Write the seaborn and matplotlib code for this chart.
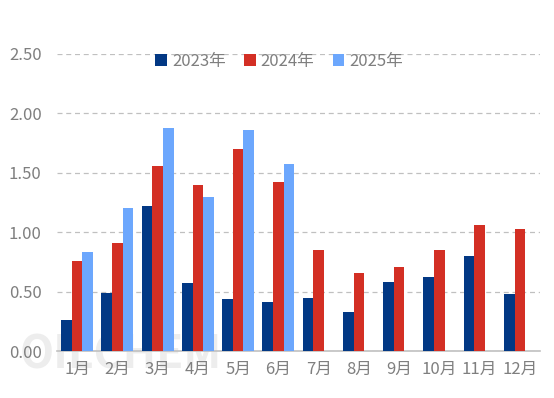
import numpy as np
import pandas as pd
import matplotlib
matplotlib.use("Agg")
import matplotlib.pyplot as plt
import seaborn as sns

# monthly values
months = ['1月', '2月', '3月', '4月', '5月', '6月', '7月', '8月', '9月', '10月', '11月', '12月']
y2023 = [0.26, 0.49, 1.22, 0.57, 0.44, 0.41, 0.45, 0.33, 0.58, 0.62, 0.80, 0.48]
y2024 = [0.76, 0.91, 1.56, 1.40, 1.70, 1.42, 0.85, 0.66, 0.71, 0.85, 1.06, 1.03]
y2025 = [0.83, 1.20, 1.88, 1.30, 1.86, 1.57, np.nan, np.nan, np.nan, np.nan, np.nan, np.nan]
years = ['2023年', '2024年', '2025年']
colors = ['#023884', '#D32F24', '#6CA7FD']

df = pd.DataFrame({'month': months * 3,
                   'year': np.repeat(years, len(months)),
                   'value': y2023 + y2024 + y2025})

sns.set_style("white")
plt.rcParams['font.family'] = ['Noto Sans CJK SC', 'DejaVu Sans']

fig = plt.figure(figsize=(5.54, 3.98), dpi=100)
ax = fig.add_axes([57 / 554, 47 / 398, 483 / 554, 297 / 398])

# faint watermark, behind the axes
fig.text(0.036, 0.075, 'OILCHEM', fontsize=32, fontweight='bold',
         color='#ededed', zorder=-1)

sns.barplot(data=df, x='month', y='value', hue='year', palette=colors,
            width=0.8, saturation=1, linewidth=0, ax=ax, zorder=3)

ax.set_ylim(0, 2.5)
ax.set_xlim(-0.5, 11.5)
ax.set_yticks(np.arange(0, 2.51, 0.5))
ax.set_yticklabels(['{:.2f}'.format(v) for v in np.arange(0, 2.51, 0.5)])
ax.yaxis.grid(True, linestyle=(0, (4, 3)), color='#c0c0c0', linewidth=0.9, zorder=0)
ax.set_axisbelow(True)
ax.patch.set_alpha(0)
for s in ['top', 'right', 'left']:
    ax.spines[s].set_visible(False)
ax.spines['bottom'].set_color('#c0c0c0')
ax.spines['bottom'].set_linewidth(1.2)
ax.tick_params(axis='both', length=0, labelsize=12, colors='#7f7f7f')
ax.tick_params(axis='x', pad=7)
ax.tick_params(axis='y', pad=11)
ax.set_xlabel('')
ax.set_ylabel('')

ax.legend(loc='center', bbox_to_anchor=(0.46, 0.975), ncol=3, frameon=False,
          fontsize=12, labelcolor='#7f7f7f', handlelength=0.7, handleheight=0.7,
          handletextpad=0.3, columnspacing=1.1)

fig.savefig('out.png', dpi=100)
